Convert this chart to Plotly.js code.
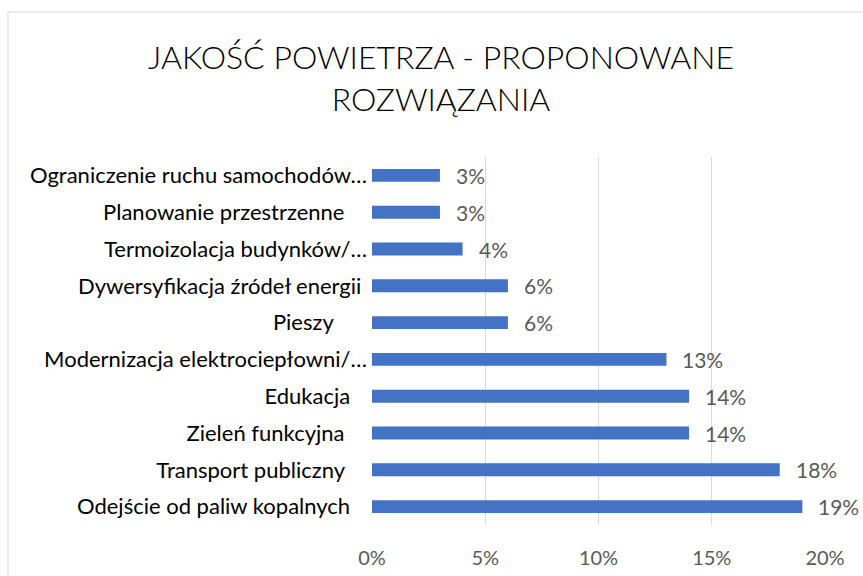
<!DOCTYPE html>
<html>
<head>
<meta charset="utf-8">
<script src="https://cdn.plot.ly/plotly-3.0.1.min.js"></script>
<style>html,body{margin:0;padding:0;background:#fff;}#chart{width:863px;height:576px;}</style>
</head>
<body>
<div id="chart"></div>
<script>
const categories = [
  "Ograniczenie ruchu samochodów…",
  "Planowanie przestrzenne",
  "Termoizolacja budynków/…",
  "Dywersyfikacja źródeł energii",
  "Pieszy",
  "Modernizacja elektrociepłowni/…",
  "Edukacja",
  "Zieleń funkcyjna",
  "Transport publiczny",
  "Odejście od paliw kopalnych"
];
const values = [3, 3, 4, 6, 6, 13, 14, 14, 18, 19];
const xTickVals = [0, 5, 10, 15, 20];
const xTickText = ["0%", "5%", "10%", "15%", "20%"];

const FONT = "Lato, 'Open Sans', sans-serif";
const NB = "\u00A0";
// trailing spacing of each label as laid out in the reference
const pad = [0, 4, 0, 1, 6, 0, 3, 4, 4, 3];
const tickText = categories.map((c, i) => c + NB.repeat(pad[i]));

const trace = {
  type: "bar",
  orientation: "h",
  x: values,
  y: categories,
  marker: {color: "#4472C4"},
  hoverinfo: "none"
};

const annotations = values.map((v, i) => ({
  x: v, y: categories[i], xref: "x", yref: "y",
  text: v + "%", showarrow: false, xanchor: "left", xshift: 14,
  font: {family: FONT, size: 21, color: "#595959"}
}));

const L = 372, R = 825, T = 157, B = 525;
const pw = R - L, ph = B - T;

const layout = {
  width: 863, height: 576,
  margin: {l: L, r: 863 - R, t: T, b: 576 - B, pad: 0},
  paper_bgcolor: "#fff", plot_bgcolor: "#fff",
  showlegend: false,
  bargap: 0.65,
  title: {
    text: "JAKOŚĆ POWIETRZA - PROPONOWANE<br>ROZWIĄZANIA",
    x: 441 / 863, xanchor: "center",
    y: 1 - 69 / 576, yanchor: "top",
    font: {family: FONT, size: 32, color: "#000", weight: 300}
  },
  xaxis: {
    range: [0, 20], tickvals: xTickVals, ticktext: xTickText,
    showgrid: true, gridcolor: "#d9d9d9", gridwidth: 1,
    zeroline: false, showline: false, ticks: "",
    tickfont: {family: FONT, size: 20, color: "#595959"},
    ticklabelstandoff: 19, fixedrange: true
  },
  yaxis: {
    autorange: "reversed", type: "category",
    tickmode: "array", tickvals: categories, ticktext: tickText,
    showgrid: false, zeroline: false, showline: false, ticks: "",
    tickfont: {family: FONT, size: 22, color: "#000"},
    ticklabelstandoff: 4, fixedrange: true
  },
  shapes: [{
    type: "rect", xref: "paper", yref: "paper",
    x0: (8 - L) / pw, x1: (900 - L) / pw,
    y0: (B - 600) / ph, y1: (B - 12) / ph,
    line: {color: "#d9d9d9", width: 1}, fillcolor: "rgba(0,0,0,0)", layer: "below"
  }],
  annotations: annotations
};

Plotly.newPlot("chart", [trace], layout, {displayModeBar: false, staticPlot: true});
</script>
</body>
</html>
